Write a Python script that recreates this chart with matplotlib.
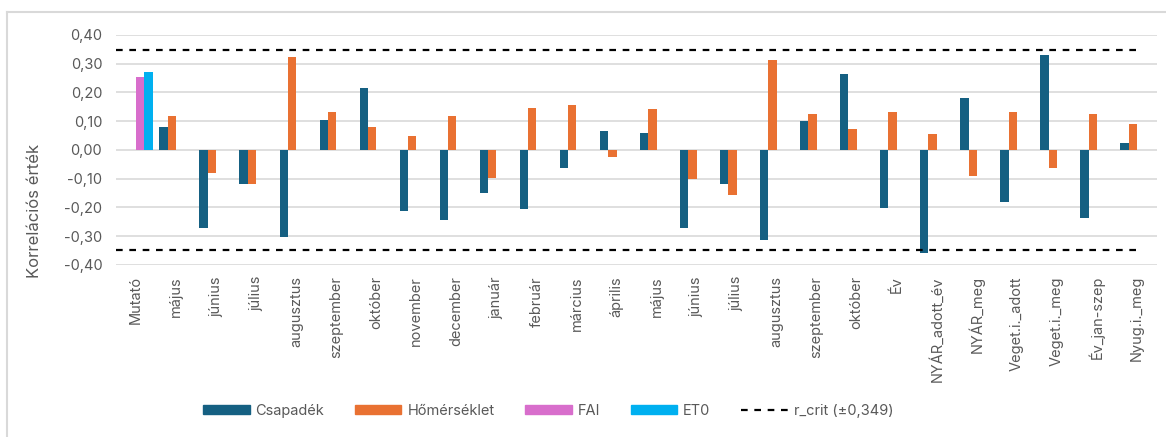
import numpy as np
import matplotlib.pyplot as plt
from matplotlib.patches import Patch
from matplotlib.lines import Line2D

plt.rcParams['font.family'] = ['Inter', 'DejaVu Sans']

categories = ["Mutató", "május", "június", "július", "augusztus", "szeptember",
              "október", "november", "december", "január", "február", "március",
              "április", "május", "június", "július", "augusztus", "szeptember",
              "október", "Év", "NYÁR_adott_év", "NYÁR_meg", "Veget.i._adott",
              "Veget.i._meg", "Év_jan-szep", "Nyug.i._meg"]
nan = np.nan
csapadek = [nan, 0.079, -0.270, -0.118, -0.301, 0.104, 0.215, -0.211, -0.243,
            -0.148, -0.206, -0.064, 0.067, 0.058, -0.272, -0.118, -0.313, 0.100,
            0.264, -0.203, -0.359, 0.182, -0.180, 0.329, -0.235, 0.025]
homerseklet = [nan, 0.118, -0.079, -0.118, 0.325, 0.133, 0.079, 0.049, 0.117,
               -0.098, 0.146, 0.157, -0.023, 0.143, -0.102, -0.158, 0.313, 0.124,
               0.074, 0.132, 0.055, -0.091, 0.132, -0.063, 0.124, 0.090]
fai = [0.255] + [nan] * 25
et0 = [0.272] + [nan] * 25
r_crit = 0.349

colors = ["#156082", "#E97132", "#D86ECC", "#00B0F0"]
grey = "#595959"

fig = plt.figure(figsize=(11.66, 4.37), dpi=100)
ax = fig.add_axes([0.0995, 0.3936, 0.8928, 0.5264])

x = np.arange(len(categories))
w = 0.208
for i, (vals, c) in enumerate(zip([csapadek, homerseklet, fai, et0], colors)):
    ax.bar(x + (i - 1.5) * w, vals, w, color=c, zorder=3)

xr = [-0.5, len(categories) - 1]
ax.plot(xr, [r_crit, r_crit], color="black", ls=(0, (3, 3)), lw=1.6, zorder=4)
ax.plot(xr, [-r_crit, -r_crit], color="black", ls=(0, (3, 3)), lw=1.6, zorder=4)

ax.set_xlim(-0.5, len(categories) - 0.5)
ax.set_ylim(-0.4, 0.4)
yt = np.arange(-0.4, 0.41, 0.1)
ax.set_yticks(yt)
ax.set_yticklabels([f"{v:.2f}".replace(".", ",").replace("-0,00", "0,00") for v in yt],
                   fontsize=10.5, color=grey)
ax.set_xticks(x)
ax.set_xticklabels(categories, rotation=90, fontsize=10.5, color=grey)
ax.tick_params(length=0, pad=8)
ax.tick_params(axis="y", pad=10)
ax.grid(axis="y", color="#D9D9D9", lw=1.2, zorder=0)
for s in ax.spines.values():
    s.set_visible(False)
ax.set_ylabel("Korrelációs érték", fontsize=12, color=grey)
ax.yaxis.set_label_coords(-0.071, 0.235)

handles = [Patch(color=colors[0], label="Csapadék"),
           Patch(color=colors[1], label="Hőmérséklet"),
           Patch(color=colors[2], label="FAI"),
           Patch(color=colors[3], label="ET0"),
           Line2D([], [], color="black", ls=(0, (3, 3)), lw=1.6,
                  label="r_crit (±0,349)")]
leg = fig.legend(handles=handles, loc="center", bbox_to_anchor=(0.470, 1 - 411 / 437),
                 ncol=5, frameon=False, fontsize=10.5, handlelength=3.2,
                 handleheight=0.6, handletextpad=0.4, columnspacing=2.1)
for t in leg.get_texts():
    t.set_color(grey)

# outer chart border (left and top edges visible)
fig.add_artist(Line2D([7 / 1166, 7 / 1166], [0, 1 - 12 / 437], color="#D9D9D9",
                      lw=1.5, transform=fig.transFigure))
fig.add_artist(Line2D([7 / 1166, 1], [1 - 12 / 437, 1 - 12 / 437], color="#D9D9D9",
                      lw=1.5, transform=fig.transFigure))

fig.savefig("out.png", dpi=100)
